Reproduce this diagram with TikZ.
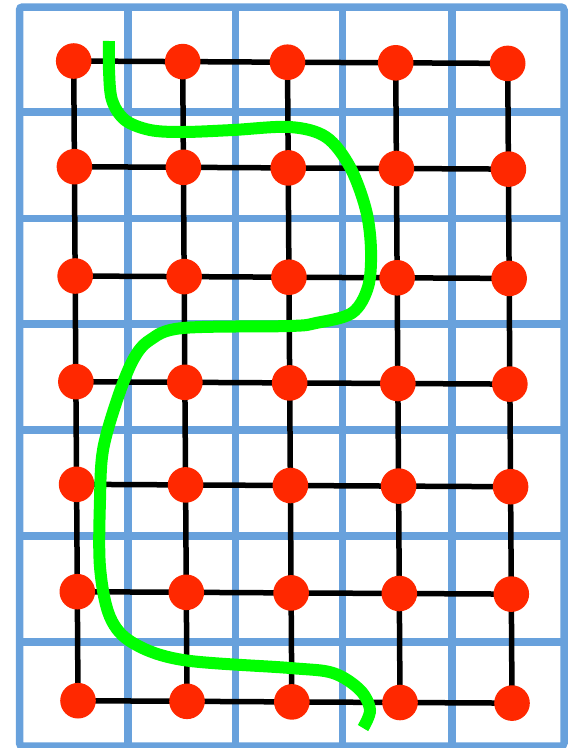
\documentclass[tikz,border=0pt]{standalone}
\usetikzlibrary{backgrounds}
\definecolor{gblue}{RGB}{104,161,220}
\definecolor{dotred}{RGB}{255,40,0}
\definecolor{routegreen}{RGB}{0,255,0}
\begin{document}
\begin{tikzpicture}[x=1pt,y=-1pt,
  gridline/.style={draw=gblue,line width=7.5pt},
  edge/.style={draw=black,line width=5.5pt},
  dot/.style={circle,fill=dotred,minimum size=35.6pt,inner sep=0pt,outer sep=0pt},
  route/.style={draw=routegreen,line width=12pt,line cap=butt}]
\useasboundingbox (0,0) rectangle (573,748);
% dots
\foreach \c/\x in {0/73.7,1/182.7,2/287.5,3/395.7,4/507.7}{
  \foreach \r/\y in {0/61,1/166.7,2/276,3/381.7,4/484.3,5/591.7,6/700.7}{
    \node[dot] (d\c\r) at ({\x+0.72*\r},{\y+0.6*\c}) {};
  }
}
\begin{scope}[on background layer]
  % blue grid
  \draw[gridline,rounded corners=3pt] (19.5,7) rectangle (564,746);
  \foreach \gx in {128,235.7,342.5,452}{
    \draw[gridline] (\gx,7) -- (\gx,746);
  }
  \foreach \gy in {112,218.5,324,430,536,642}{
    \draw[gridline] (19.5,\gy) -- (564,\gy);
  }
  % black connectors
  \foreach \c in {0,...,4}{
    \foreach \r in {0,...,5}{
      \pgfmathtruncatemacro{\n}{\r+1}
      \draw[edge] (d\c\r.center) -- (d\c\n.center);
    }
  }
  \foreach \r in {0,...,6}{
    \foreach \c in {0,...,3}{
      \pgfmathtruncatemacro{\n}{\c+1}
      \draw[edge] (d\c\r.center) -- (d\n\r.center);
    }
  }
\end{scope}
% green route
\draw[route] plot[smooth,tension=0.55] coordinates {
  (109,41) (109,70) (112,100) (125,120) (150,130) (183,132) (233,130)
  (290,127) (326,137) (350,167) (366,210) (371,250) (368,287) (352,313)
  (316,323) (290,326) (183,328) (150,340) (133,360) (117,400) (103,450)
  (100,500) (100,567) (110,617) (133,643) (183,660) (290,668) (333,673)
  (360,690) (370,710) (363,728)};
\end{tikzpicture}
\end{document}
